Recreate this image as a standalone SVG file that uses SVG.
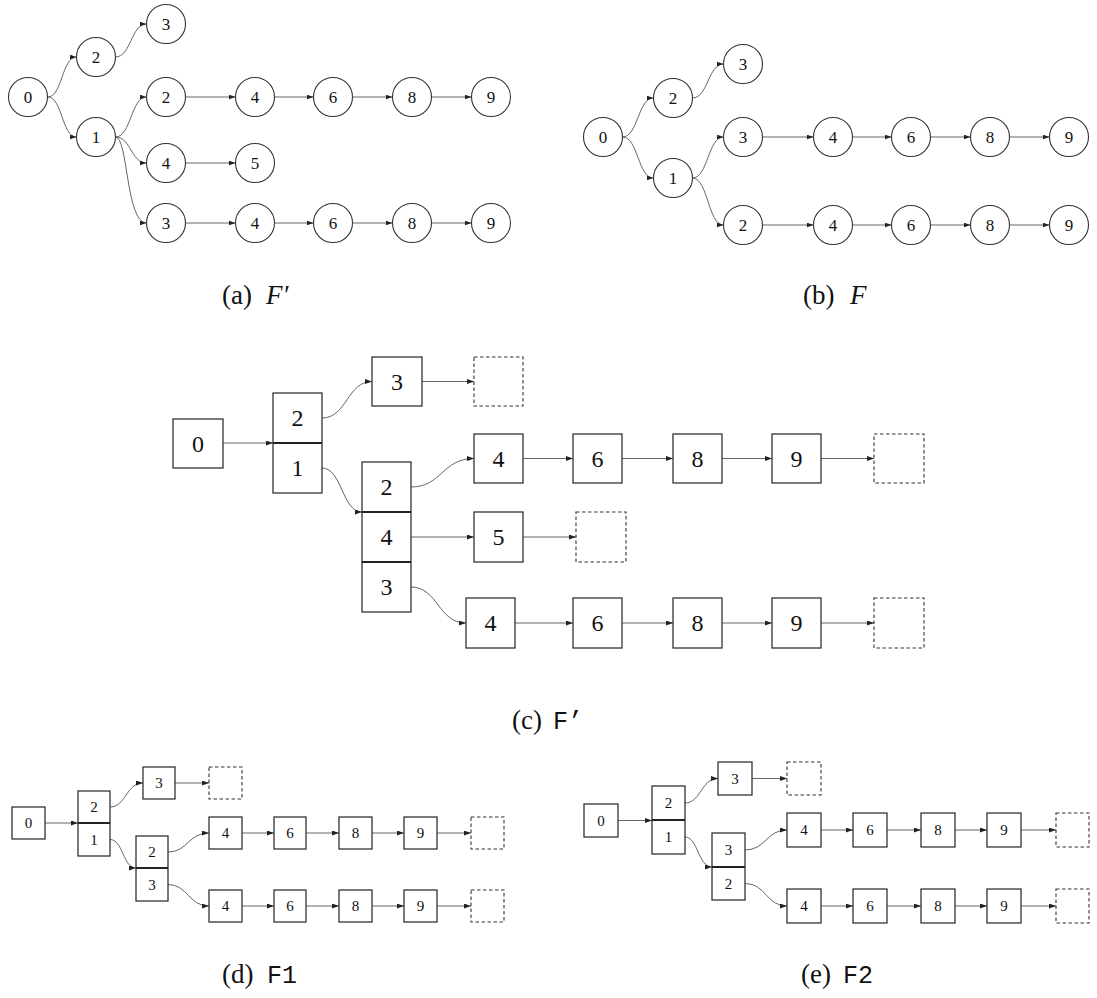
<svg xmlns="http://www.w3.org/2000/svg" width="1097" height="998" viewBox="0 0 1097 998">
<style>
.c{fill:#fff;stroke:#333;stroke-width:1.1}
.b{fill:#fff;stroke:#333;stroke-width:1.3}
.d{fill:none;stroke:#333;stroke-width:1.1;stroke-dasharray:3.5 2.5}
.dv{stroke:#222;stroke-width:2}
.e{fill:none;stroke:#555;stroke-width:0.9;marker-end:url(#ah)}
.t17{font-family:"Liberation Serif",serif;font-size:17px;text-anchor:middle;fill:#111}
.t24{font-family:"Liberation Serif",serif;font-size:24px;text-anchor:middle;fill:#111}
.t15{font-family:"Liberation Serif",serif;font-size:15px;text-anchor:middle;fill:#111}
.cap{font-family:"Liberation Serif",serif;font-size:27px;fill:#111}
.capi{font-family:"Liberation Serif",serif;font-size:27px;font-style:italic;fill:#111}
.capm{font-family:"Liberation Mono",monospace;font-size:25px;fill:#111}
</style>
<defs>
<marker id="ah" markerUnits="userSpaceOnUse" markerWidth="8" markerHeight="5" refX="7" refY="2.5" orient="auto">
<path d="M0,0 L7,2.5 L0,5 z" fill="#222"/>
</marker>
</defs>

<g id="connectors">
<!-- (a) -->
<path class="e" d="M48,97 C62,97 62,57 76.5,57"/>
<path class="e" d="M48,97 C62,97 62,137 76.5,137"/>
<path class="e" d="M115.5,57 C131,57 131,24 146.5,24"/>
<path class="e" d="M115.5,137 C131,137 131,97 146.5,97"/>
<path class="e" d="M115.5,137 C131,137 131,163 146.5,163"/>
<path class="e" d="M115.5,137 C128,137 126,223 146.5,223"/>
<path class="e" d="M185.5,97 H235.5"/>
<path class="e" d="M274.5,97 H313.5"/>
<path class="e" d="M352.5,97 H392.5"/>
<path class="e" d="M431.5,97 H471.5"/>
<path class="e" d="M185.5,163 H235.5"/>
<path class="e" d="M185.5,223 H235.5"/>
<path class="e" d="M274.5,223 H313.5"/>
<path class="e" d="M352.5,223 H392.5"/>
<path class="e" d="M431.5,223 H471.5"/>
<!-- (b) -->
<path class="e" d="M622.5,137 C638,137 638,98 653.5,98"/>
<path class="e" d="M622.5,137 C638,137 638,178 653.5,178"/>
<path class="e" d="M692.5,98 C708,98 708,64 723.5,64"/>
<path class="e" d="M692.5,178 C708,178 708,137 723.5,137"/>
<path class="e" d="M692.5,178 C708,178 708,225 723.5,225"/>
<path class="e" d="M762.5,137 H813.5"/>
<path class="e" d="M852.5,137 H891.5"/>
<path class="e" d="M930.5,137 H970.5"/>
<path class="e" d="M1009.5,137 H1049.5"/>
<path class="e" d="M762.5,225 H813.5"/>
<path class="e" d="M852.5,225 H891.5"/>
<path class="e" d="M930.5,225 H970.5"/>
<path class="e" d="M1009.5,225 H1049.5"/>
<!-- (c) -->
<path class="e" d="M223,443 H273"/>
<path class="e" d="M322,418 C347,418 347,381.5 372,381.5"/>
<path class="e" d="M322,468 C342,468 342,512 362,512"/>
<path class="e" d="M411,487 C442,487 442,458.5 474,458.5"/>
<path class="e" d="M411,537 H474"/>
<path class="e" d="M411,587 C438,587 438,623 466,623"/>
<path class="e" d="M422,381.5 H474"/>
<path class="e" d="M523,458.5 H573"/>
<path class="e" d="M622,458.5 H673"/>
<path class="e" d="M722,458.5 H772"/>
<path class="e" d="M821,458.5 H874"/>
<path class="e" d="M523,537 H576"/>
<path class="e" d="M515,623 H573"/>
<path class="e" d="M622,623 H673"/>
<path class="e" d="M722,623 H772"/>
<path class="e" d="M821,623 H874"/>
<!-- (d) -->
<path class="e" d="M45,823 H78"/>
<path class="e" d="M110,807 C126,807 126,783 143,783"/>
<path class="e" d="M110,839.5 C123,839.5 123,868 136,868"/>
<path class="e" d="M168,852 C188,852 188,833 209,833"/>
<path class="e" d="M168,884.5 C188,884.5 188,906 209,906"/>
<path class="e" d="M175,783 H209"/>
<path class="e" d="M242,833 H274"/>
<path class="e" d="M306,833 H339"/>
<path class="e" d="M372,833 H404"/>
<path class="e" d="M437,833 H471"/>
<path class="e" d="M242,906 H274"/>
<path class="e" d="M306,906 H339"/>
<path class="e" d="M372,906 H404"/>
<path class="e" d="M437,906 H471"/>
<!-- (e) -->
<path class="e" d="M618,820.5 H652"/>
<path class="e" d="M685,803 C701,803 701,778.5 718,778.5"/>
<path class="e" d="M685,837 C698,837 698,867 712,867"/>
<path class="e" d="M745,850 C766,850 766,830 787,830"/>
<path class="e" d="M745,883.5 C766,883.5 766,906 787,906"/>
<path class="e" d="M752,778.5 H787"/>
<path class="e" d="M821,830 H853"/>
<path class="e" d="M887,830 H921"/>
<path class="e" d="M955,830 H987"/>
<path class="e" d="M1021,830 H1056"/>
<path class="e" d="M821,906 H853"/>
<path class="e" d="M887,906 H921"/>
<path class="e" d="M955,906 H987"/>
<path class="e" d="M1021,906 H1056"/>
</g>

<!-- (a) nodes -->
<g id="a-n0"><circle class="c" cx="28" cy="97" r="19.5"/><text class="t17" x="28" y="103">0</text></g>
<g id="a-n2"><circle class="c" cx="96" cy="57" r="19.5"/><text class="t17" x="96" y="63">2</text></g>
<g id="a-n3"><circle class="c" cx="166" cy="24" r="19.5"/><text class="t17" x="166" y="30">3</text></g>
<g id="a-n1"><circle class="c" cx="96" cy="137" r="19.5"/><text class="t17" x="96" y="143">1</text></g>
<g id="a-r1-2"><circle class="c" cx="166" cy="97" r="19.5"/><text class="t17" x="166" y="103">2</text></g>
<g id="a-r1-4"><circle class="c" cx="255" cy="97" r="19.5"/><text class="t17" x="255" y="103">4</text></g>
<g id="a-r1-6"><circle class="c" cx="333" cy="97" r="19.5"/><text class="t17" x="333" y="103">6</text></g>
<g id="a-r1-8"><circle class="c" cx="412" cy="97" r="19.5"/><text class="t17" x="412" y="103">8</text></g>
<g id="a-r1-9"><circle class="c" cx="491" cy="97" r="19.5"/><text class="t17" x="491" y="103">9</text></g>
<g id="a-r2-4"><circle class="c" cx="166" cy="163" r="19.5"/><text class="t17" x="166" y="169">4</text></g>
<g id="a-r2-5"><circle class="c" cx="255" cy="163" r="19.5"/><text class="t17" x="255" y="169">5</text></g>
<g id="a-r3-3"><circle class="c" cx="166" cy="223" r="19.5"/><text class="t17" x="166" y="229">3</text></g>
<g id="a-r3-4"><circle class="c" cx="255" cy="223" r="19.5"/><text class="t17" x="255" y="229">4</text></g>
<g id="a-r3-6"><circle class="c" cx="333" cy="223" r="19.5"/><text class="t17" x="333" y="229">6</text></g>
<g id="a-r3-8"><circle class="c" cx="412" cy="223" r="19.5"/><text class="t17" x="412" y="229">8</text></g>
<g id="a-r3-9"><circle class="c" cx="491" cy="223" r="19.5"/><text class="t17" x="491" y="229">9</text></g>

<!-- (b) nodes -->
<g id="b-n0"><circle class="c" cx="603" cy="137" r="19.5"/><text class="t17" x="603" y="143">0</text></g>
<g id="b-n2"><circle class="c" cx="673" cy="98" r="19.5"/><text class="t17" x="673" y="104">2</text></g>
<g id="b-n3"><circle class="c" cx="743" cy="64" r="19.5"/><text class="t17" x="743" y="70">3</text></g>
<g id="b-n1"><circle class="c" cx="673" cy="178" r="19.5"/><text class="t17" x="673" y="184">1</text></g>
<g id="b-r1-3"><circle class="c" cx="743" cy="137" r="19.5"/><text class="t17" x="743" y="143">3</text></g>
<g id="b-r1-4"><circle class="c" cx="833" cy="137" r="19.5"/><text class="t17" x="833" y="143">4</text></g>
<g id="b-r1-6"><circle class="c" cx="911" cy="137" r="19.5"/><text class="t17" x="911" y="143">6</text></g>
<g id="b-r1-8"><circle class="c" cx="990" cy="137" r="19.5"/><text class="t17" x="990" y="143">8</text></g>
<g id="b-r1-9"><circle class="c" cx="1069" cy="137" r="19.5"/><text class="t17" x="1069" y="143">9</text></g>
<g id="b-r2-2"><circle class="c" cx="743" cy="225" r="19.5"/><text class="t17" x="743" y="231">2</text></g>
<g id="b-r2-4"><circle class="c" cx="833" cy="225" r="19.5"/><text class="t17" x="833" y="231">4</text></g>
<g id="b-r2-6"><circle class="c" cx="911" cy="225" r="19.5"/><text class="t17" x="911" y="231">6</text></g>
<g id="b-r2-8"><circle class="c" cx="990" cy="225" r="19.5"/><text class="t17" x="990" y="231">8</text></g>
<g id="b-r2-9"><circle class="c" cx="1069" cy="225" r="19.5"/><text class="t17" x="1069" y="231">9</text></g>

<!-- (c) nodes -->
<g id="c-n0"><rect class="b" x="173" y="419" width="50" height="49"/><text class="t24" x="198" y="452">0</text></g>
<g id="c-stackA"><rect class="b" x="273" y="393" width="49" height="100"/><line class="dv" x1="273" y1="443" x2="322" y2="443"/><text class="t24" x="297.5" y="426">2</text><text class="t24" x="297.5" y="476">1</text></g>
<g id="c-n3"><rect class="b" x="372" y="357" width="50" height="49"/><text class="t24" x="397" y="390">3</text></g>
<g id="c-null1"><rect class="d" x="474" y="357" width="49" height="49"/></g>
<g id="c-stackB"><rect class="b" x="362" y="462" width="49" height="150"/><line class="dv" x1="362" y1="512" x2="411" y2="512"/><line class="dv" x1="362" y1="562" x2="411" y2="562"/><text class="t24" x="386.5" y="495">2</text><text class="t24" x="386.5" y="545">4</text><text class="t24" x="386.5" y="595">3</text></g>
<g id="c-r1-4"><rect class="b" x="474" y="434" width="49" height="49"/><text class="t24" x="498.5" y="467">4</text></g>
<g id="c-r1-6"><rect class="b" x="573" y="434" width="49" height="49"/><text class="t24" x="597.5" y="467">6</text></g>
<g id="c-r1-8"><rect class="b" x="673" y="434" width="49" height="49"/><text class="t24" x="697.5" y="467">8</text></g>
<g id="c-r1-9"><rect class="b" x="772" y="434" width="49" height="49"/><text class="t24" x="796.5" y="467">9</text></g>
<g id="c-r1-null"><rect class="d" x="874" y="434" width="50" height="49"/></g>
<g id="c-r2-5"><rect class="b" x="474" y="512" width="49" height="50"/><text class="t24" x="498.5" y="545">5</text></g>
<g id="c-r2-null"><rect class="d" x="576" y="512" width="50" height="50"/></g>
<g id="c-r3-4"><rect class="b" x="466" y="598" width="49" height="50"/><text class="t24" x="490.5" y="631">4</text></g>
<g id="c-r3-6"><rect class="b" x="573" y="598" width="49" height="50"/><text class="t24" x="597.5" y="631">6</text></g>
<g id="c-r3-8"><rect class="b" x="673" y="598" width="49" height="50"/><text class="t24" x="697.5" y="631">8</text></g>
<g id="c-r3-9"><rect class="b" x="772" y="598" width="49" height="50"/><text class="t24" x="796.5" y="631">9</text></g>
<g id="c-r3-null"><rect class="d" x="874" y="598" width="50" height="50"/></g>

<!-- (d) nodes -->
<g id="d-n0"><rect class="b" x="12" y="807" width="33" height="32"/><text class="t15" x="28.5" y="828">0</text></g>
<g id="d-stackA"><rect class="b" x="78" y="791" width="32" height="65"/><line class="dv" x1="78" y1="823" x2="110" y2="823"/><text class="t15" x="94" y="812">2</text><text class="t15" x="94" y="845">1</text></g>
<g id="d-n3"><rect class="b" x="143" y="767" width="32" height="32"/><text class="t15" x="159" y="788">3</text></g>
<g id="d-null1"><rect class="d" x="209" y="767" width="33" height="32"/></g>
<g id="d-stackB"><rect class="b" x="136" y="836" width="32" height="65"/><line class="dv" x1="136" y1="868" x2="168" y2="868"/><text class="t15" x="152" y="857">2</text><text class="t15" x="152" y="890">3</text></g>
<g id="d-r1-4"><rect class="b" x="209" y="817" width="33" height="32"/><text class="t15" x="225.5" y="838">4</text></g>
<g id="d-r1-6"><rect class="b" x="274" y="817" width="32" height="32"/><text class="t15" x="290" y="838">6</text></g>
<g id="d-r1-8"><rect class="b" x="339" y="817" width="33" height="32"/><text class="t15" x="355.5" y="838">8</text></g>
<g id="d-r1-9"><rect class="b" x="404" y="817" width="33" height="32"/><text class="t15" x="420.5" y="838">9</text></g>
<g id="d-r1-null"><rect class="d" x="471" y="817" width="33" height="32"/></g>
<g id="d-r2-4"><rect class="b" x="209" y="890" width="33" height="32"/><text class="t15" x="225.5" y="911">4</text></g>
<g id="d-r2-6"><rect class="b" x="274" y="890" width="32" height="32"/><text class="t15" x="290" y="911">6</text></g>
<g id="d-r2-8"><rect class="b" x="339" y="890" width="33" height="32"/><text class="t15" x="355.5" y="911">8</text></g>
<g id="d-r2-9"><rect class="b" x="404" y="890" width="33" height="32"/><text class="t15" x="420.5" y="911">9</text></g>
<g id="d-r2-null"><rect class="d" x="471" y="890" width="33" height="32"/></g>

<!-- (e) nodes -->
<g id="e-n0"><rect class="b" x="584" y="804" width="34" height="33"/><text class="t15" x="601" y="826">0</text></g>
<g id="e-stackA"><rect class="b" x="652" y="786" width="33" height="68"/><line class="dv" x1="652" y1="820" x2="685" y2="820"/><text class="t15" x="668.5" y="808">2</text><text class="t15" x="668.5" y="842">1</text></g>
<g id="e-n3"><rect class="b" x="718" y="762" width="34" height="33"/><text class="t15" x="735" y="784">3</text></g>
<g id="e-null1"><rect class="d" x="787" y="762" width="34" height="33"/></g>
<g id="e-stackB"><rect class="b" x="712" y="833" width="33" height="67"/><line class="dv" x1="712" y1="867" x2="745" y2="867"/><text class="t15" x="728.5" y="855">3</text><text class="t15" x="728.5" y="889">2</text></g>
<g id="e-r1-4"><rect class="b" x="787" y="813" width="34" height="34"/><text class="t15" x="804" y="835">4</text></g>
<g id="e-r1-6"><rect class="b" x="853" y="813" width="34" height="34"/><text class="t15" x="870" y="835">6</text></g>
<g id="e-r1-8"><rect class="b" x="921" y="813" width="34" height="34"/><text class="t15" x="938" y="835">8</text></g>
<g id="e-r1-9"><rect class="b" x="987" y="813" width="34" height="34"/><text class="t15" x="1004" y="835">9</text></g>
<g id="e-r1-null"><rect class="d" x="1056" y="813" width="33" height="34"/></g>
<g id="e-r2-4"><rect class="b" x="787" y="889" width="34" height="34"/><text class="t15" x="804" y="911">4</text></g>
<g id="e-r2-6"><rect class="b" x="853" y="889" width="34" height="34"/><text class="t15" x="870" y="911">6</text></g>
<g id="e-r2-8"><rect class="b" x="921" y="889" width="34" height="34"/><text class="t15" x="938" y="911">8</text></g>
<g id="e-r2-9"><rect class="b" x="987" y="889" width="34" height="34"/><text class="t15" x="1004" y="911">9</text></g>
<g id="e-r2-null"><rect class="d" x="1056" y="889" width="33" height="34"/></g>

<!-- captions -->
<g id="captions">
<text class="cap" x="222" y="304">(a)</text><text class="capi" x="266" y="304">F′</text>
<text class="cap" x="803" y="304">(b)</text><text class="capi" x="850" y="304">F</text>
<text class="cap" x="512" y="729">(c)</text><text class="capm" x="553" y="729">F’</text>
<text class="cap" x="222" y="983">(d)</text><text class="capm" x="267" y="983">F1</text>
<text class="cap" x="801" y="983">(e)</text><text class="capm" x="843" y="983">F2</text>
</g>
</svg>
